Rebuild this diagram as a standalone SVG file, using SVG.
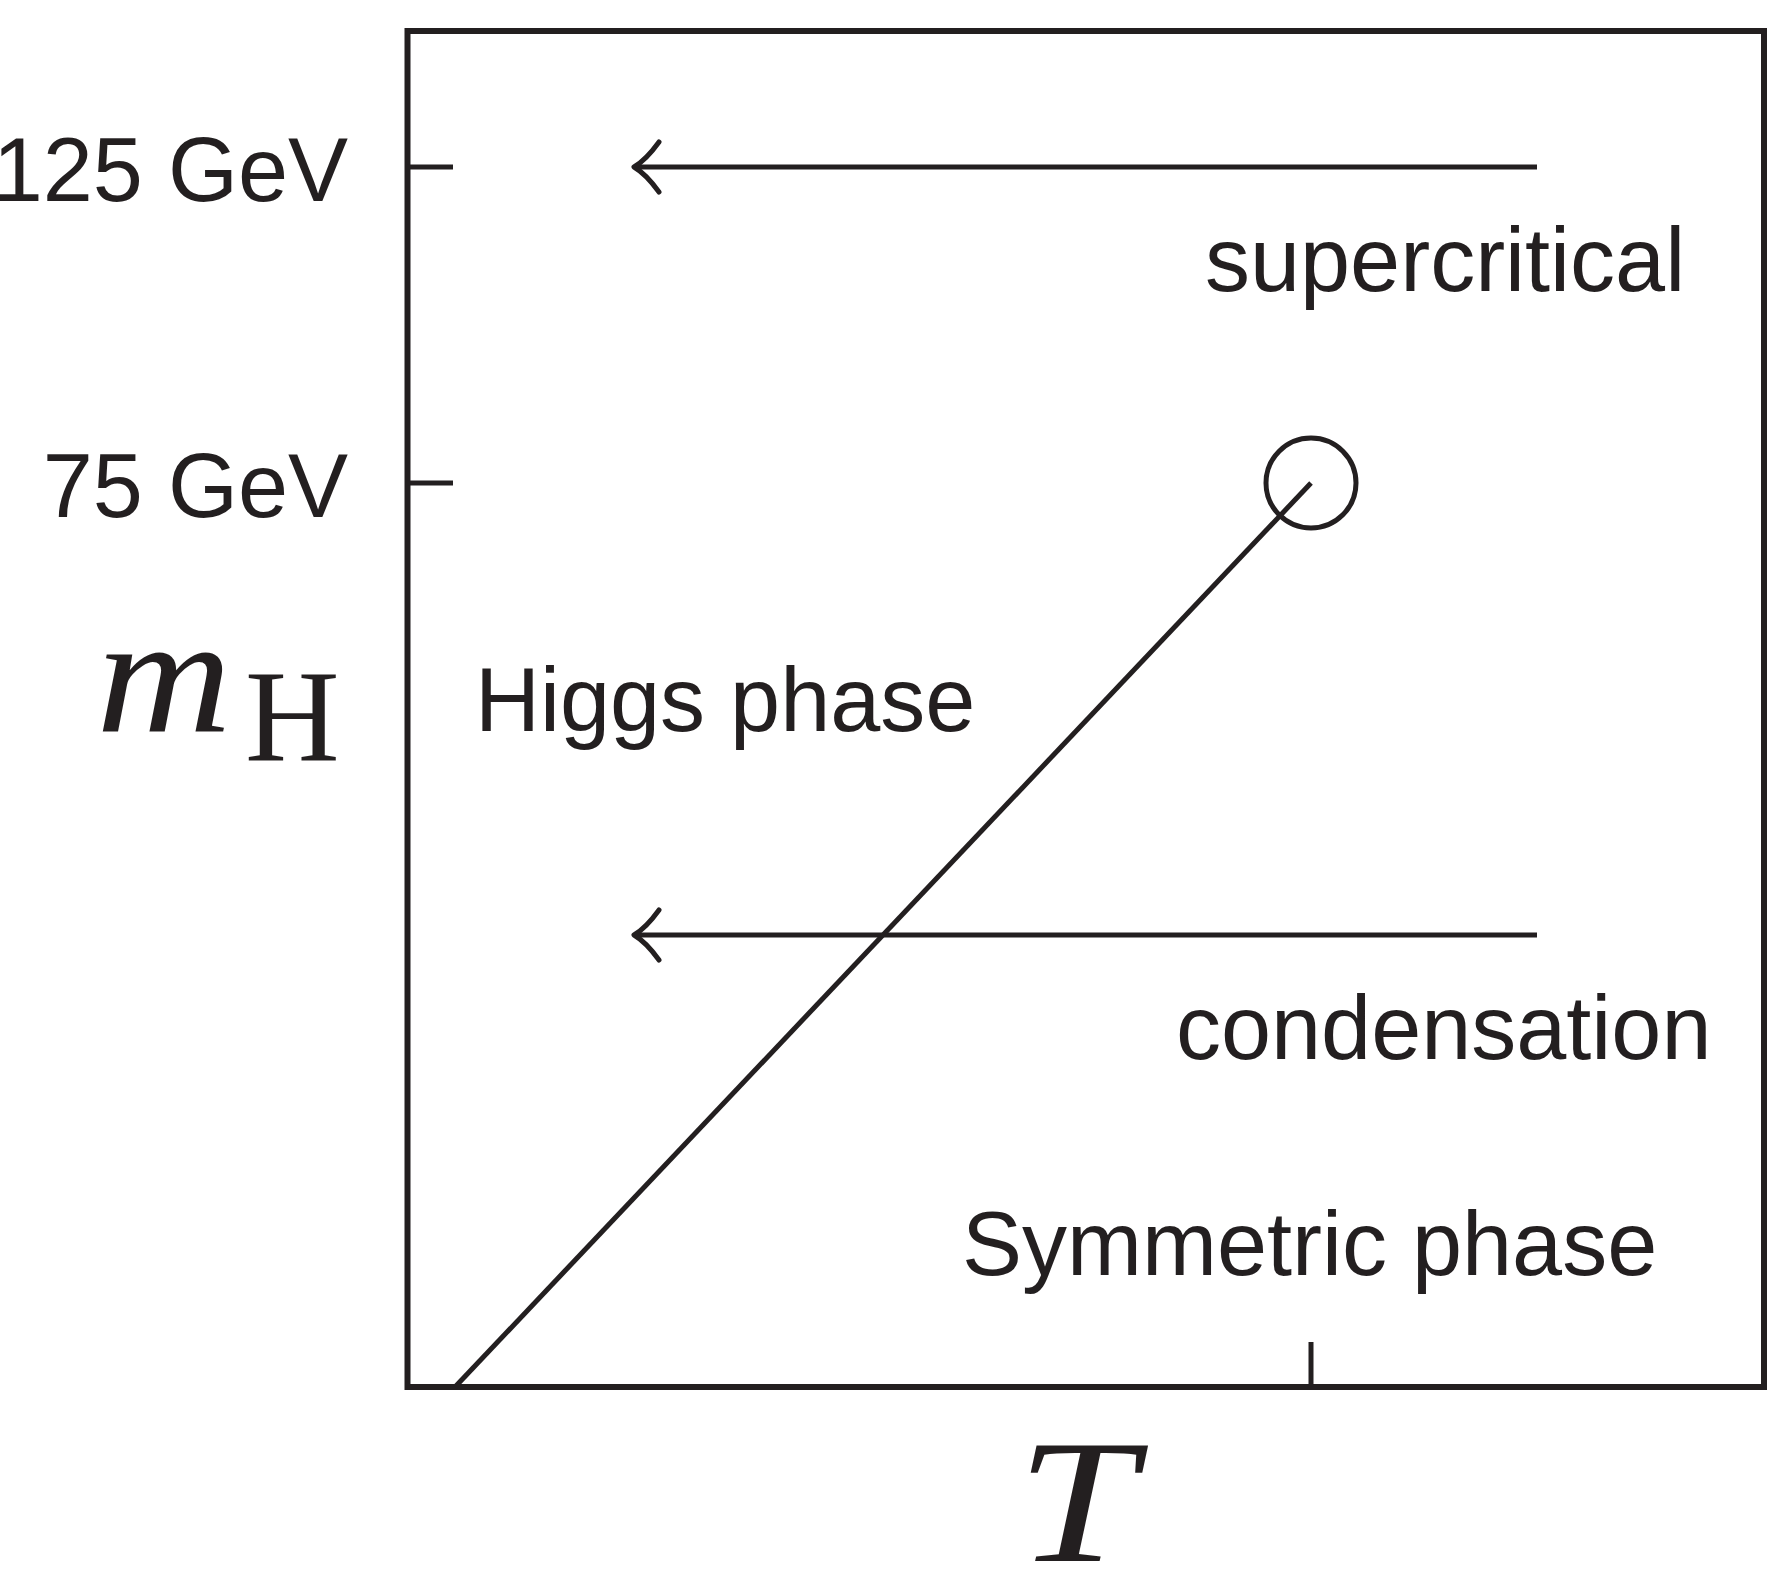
<svg xmlns="http://www.w3.org/2000/svg" width="1790" height="1594" viewBox="0 0 1790 1594">
<style>
.ln{stroke:#231f20;fill:none;stroke-width:5}
.bx{stroke:#231f20;fill:none;stroke-width:6}
.lbl{font-family:"Liberation Sans",Arial,sans-serif;font-size:90px;fill:#231f20}
.math{font-family:"Liberation Serif","Times New Roman",serif;fill:#231f20}
</style>
<rect width="1790" height="1594" fill="#ffffff"/>
<g id="axes">
<rect class="bx" x="407.5" y="31" width="1356.5" height="1356"/>
<line class="ln" x1="407" y1="167" x2="453" y2="167"/>
<line class="ln" x1="407" y1="483" x2="453" y2="483"/>
<line class="ln" x1="1311" y1="1342" x2="1311" y2="1387"/>
</g>
<g id="labels-axes">
<text class="lbl" x="348" y="201" text-anchor="end" font-size="88">125 GeV</text>
<text class="lbl" x="348" y="517" text-anchor="end" font-size="88">75 GeV</text>
<text class="math" transform="translate(96,731) scale(1.12,1)" font-size="168" font-style="italic">m</text>
<text class="math" x="245" y="760" font-size="131">H</text>
<text class="math" transform="translate(1076,1561) scale(1.22,1)" font-size="175" font-style="italic" text-anchor="middle">T</text>
</g>
<g id="transition-line">
<line class="ln" x1="455" y1="1387" x2="1311" y2="483"/>
</g>
<g id="critical-point">
<circle class="ln" cx="1311" cy="483" r="45"/>
</g>
<g id="connectors">
<line class="ln" x1="1537" y1="167" x2="636" y2="167"/>
<path class="ln" d="M659,142 Q646,160 634,167 Q646,174 659,192" stroke-linecap="round" stroke-linejoin="round"/>
<line class="ln" x1="1537" y1="935" x2="636" y2="935"/>
<path class="ln" d="M659,910 Q646,928 634,935 Q646,942 659,960" stroke-linecap="round" stroke-linejoin="round"/>
</g>
<g id="region-labels">
<text class="lbl" x="1205" y="291">supercritical</text>
<text class="lbl" x="475" y="731">Higgs phase</text>
<text class="lbl" x="1176" y="1059">condensation</text>
<text class="lbl" x="962" y="1275">Symmetric phase</text>
</g>
</svg>
